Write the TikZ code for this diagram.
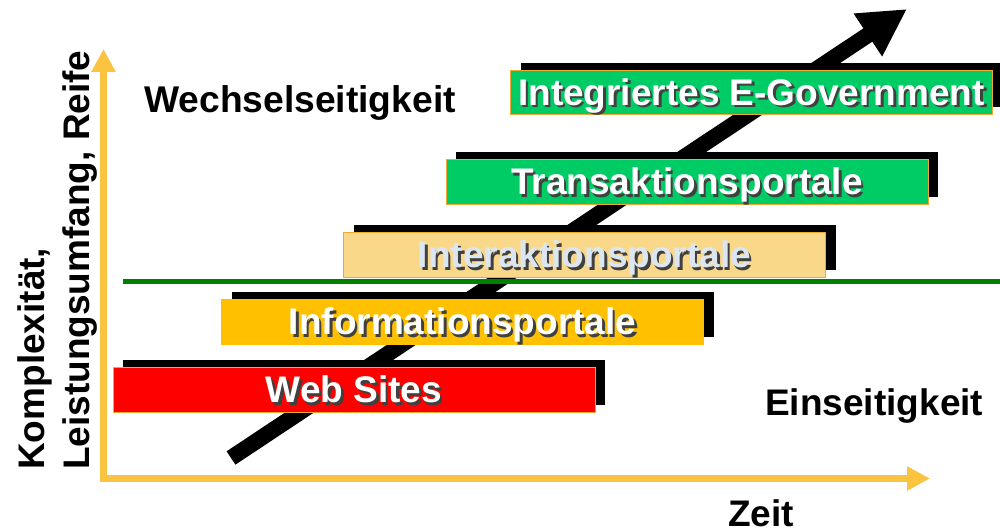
\documentclass[tikz,border=0pt]{standalone}
\usepackage{fontspec}
\setmainfont{Liberation Sans}
\usetikzlibrary{arrows.meta,shadows}
\definecolor{axisgold}{RGB}{251,196,64}
\definecolor{boxred}{RGB}{255,0,0}
\definecolor{boxgold}{RGB}{255,192,0}
\definecolor{boxlight}{RGB}{250,216,138}
\definecolor{boxgreen}{RGB}{0,204,102}
\definecolor{boxborder}{RGB}{240,170,50}
\definecolor{linegreen}{RGB}{0,128,0}
\definecolor{paletext}{RGB}{220,230,240}
\newcommand\shtxt[2]{\makebox[0pt][l]{\kern2.5pt\raisebox{-2.5pt}{\color{black!75}#2}}{\color{#1}#2}}
\tikzset{
  stagebox/.style={minimum width=482pt, minimum height=45pt, inner sep=0pt,
    text height=26.5pt, text depth=0pt, draw=boxborder, line width=0.8pt,
    font=\fontsize{37}{40}\selectfont\bfseries,
    general shadow={fill=black, draw=none, shadow xshift=10pt, shadow yshift=7pt}},
  biglabel/.style={inner sep=0pt, font=\fontsize{37}{40}\selectfont\bfseries},
  axislabel/.style={inner sep=0pt, rotate=90, anchor=base west, font=\fontsize{37}{40}\selectfont\bfseries},
  axisline/.style={draw=axisgold, line width=7pt, {Triangle[length=23pt,width=23pt]}-{Triangle[length=23pt,width=23pt]}},
  timearrow/.style={line width=16pt, -{Triangle[length=47pt,width=48pt]}}
}
\begin{document}
\begin{tikzpicture}[x=1pt,y=-1pt]
\useasboundingbox (0,0) rectangle (1000,529);
% axes
\coordinate (ytip) at (103.5,49);
\coordinate (orig) at (103.5,478.5);
\coordinate (xtip) at (930,478.5);
\draw[axisline] (ytip) -- (orig) -- (xtip);
% big time arrow
\coordinate (as) at (231,458);
\coordinate (ae) at (907,9);
\draw[timearrow] (as) -- (ae);
% green separator
\coordinate (gl) at (123,281.5);
\coordinate (gr) at (1000,281.5);
\draw[linegreen, line width=4.5pt] (gl) -- (gr);
% stage boxes
\node[stagebox, fill=boxred] (web) at (354,389.5) {\shtxt{white}{Web Sites}};
\node[stagebox, fill=boxgold, draw=boxgold] (info) at (462.5,321.5) {\shtxt{white}{Informationsportale}};
\node[stagebox, fill=boxlight] (inter) at (584.5,254.5) {\shtxt{paletext}{Interaktionsportale}};
\node[stagebox, fill=boxgreen] (trans) at (687,181.5) {\shtxt{white}{Transaktionsportale}};
\node[stagebox, fill=boxgreen, minimum height=44pt] (egov) at (751.5,92) {\shtxt{white}{Integriertes E-Government}};
% labels
\node[biglabel, anchor=base, font=\fontsize{37.2}{40}\selectfont\bfseries] (wech) at (300,112.7) {Wechselseitigkeit};
\node[biglabel, anchor=base west] (eins) at (765,415) {Einseitigkeit};
\node[biglabel, anchor=base west] (zeit) at (728,526) {Zeit};
\node[axislabel] (yl1) at (44,470) {Komplexität,};
\node[axislabel] (yl2) at (89,470) {Leistungsumfang, Reife};
\end{tikzpicture}
\end{document}
